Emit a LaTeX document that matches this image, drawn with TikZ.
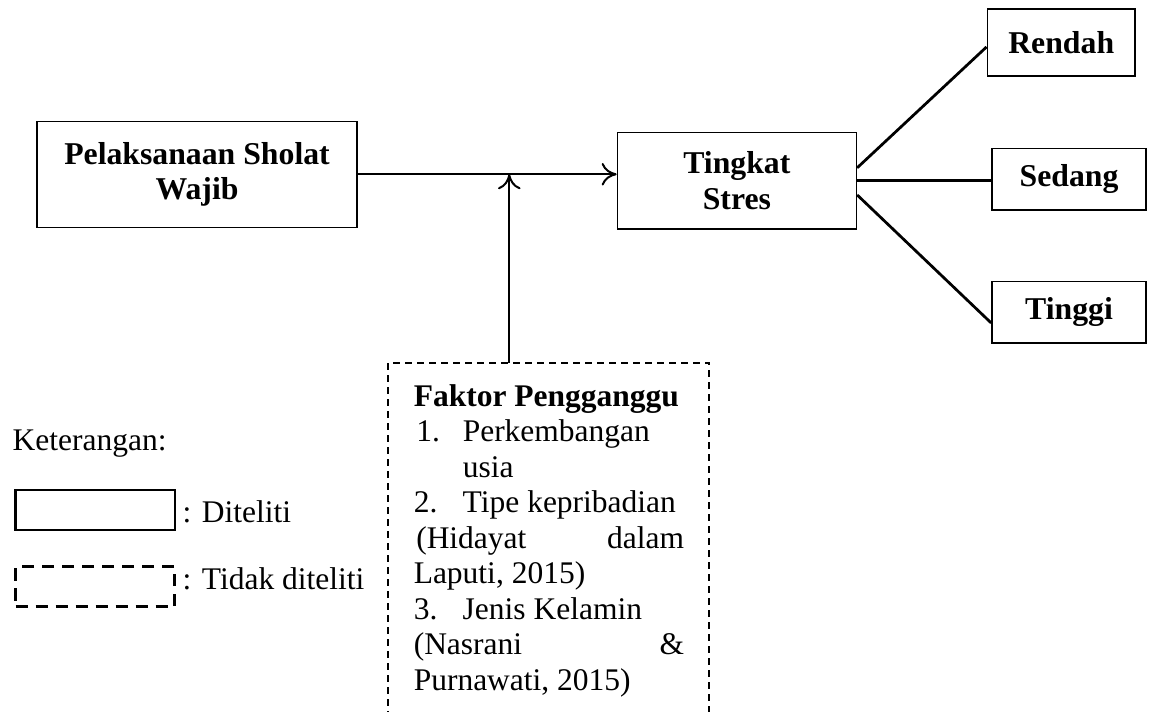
\documentclass[tikz,border=0pt]{standalone}
\usepackage{fontspec}
\setmainfont{Liberation Serif}
\usetikzlibrary{arrows.meta}

\begin{document}
\begin{tikzpicture}[>={To[length=6pt,width=9pt]},
  every node/.style={font=\fontsize{12.6}{14.2}\selectfont},
  kotak/.style={draw,semithick,align=center,font=\fontsize{12.7}{14.2}\selectfont\bfseries},
  teks/.style={anchor=base west,inner sep=0pt},
  garis/.style={line width=1.1pt}]
\useasboundingbox (0,0) rectangle (16.21,10.01);
%\draw[help lines] (0,0)grid(16,10);
\draw (2.77,7.56)coordinate(a)
      (10.36,7.47)coordinate(b)
      (14.92,9.41)coordinate(c)
      (15.03,7.49)coordinate(d)
      (15.03,5.62)coordinate(e)
      (5.46,4.91)coordinate(f)
      (0.17,3.68)coordinate(g)
      (1.34,2.84)coordinate(h)
      (1.34,1.76)coordinate(i)
      (2.56,2.67)coordinate(j)
      (2.56,1.72)coordinate(k)
      (7.16,4.91)coordinate(l);
\node[kotak,minimum width=4.5cm,minimum height=1.49cm](sholat) at (a){Pelaksanaan Sholat\\Wajib};
\node[kotak,minimum width=3.36cm,minimum height=1.36cm](stres) at (b){Tingkat\\Stres};
\node[kotak,minimum width=2.08cm,minimum height=0.94cm](rendah) at (c){Rendah};
\node[kotak,minimum width=2.17cm,minimum height=0.87cm](sedang) at (d){Sedang};
\node[kotak,minimum width=2.17cm,minimum height=0.87cm](tinggi) at (e){Tinggi};
\node[anchor=north west,inner xsep=0.35cm,inner ysep=8.5pt,text width=3.8cm,align=flush left](faktor) at (f){\mbox{\textbf{Faktor Pengganggu}}\\
\hspace*{1pt}\makebox[18.6pt][l]{1.}Perkembangan\\
\hspace*{19.6pt}usia\\
\makebox[19.6pt][l]{2.}Tipe kepribadian\\
\hspace*{1pt}(Hidayat\hfill dalam\\
Laputi, 2015)\\
\makebox[19.6pt][l]{3.}Jenis Kelamin\\
(Nasrani\hfill\&\\
Purnawati, 2015)};
\draw[dash pattern=on 2.8pt off 2pt,line width=0.8pt]([yshift=-1cm]faktor.south west)|-(faktor.north east)--([yshift=-1cm]faktor.south east);
\draw[->,thick](sholat.east)--(sholat.east -| stres.west);
\draw[->,thick](l |- faktor.north)--(l |- sholat.east);
\draw[garis]([yshift=0.18cm]stres.east)--([yshift=-0.06cm]rendah.west);
\draw[garis](stres.east)--(stres.east -| sedang.west);
\draw[garis]([yshift=-0.2cm]stres.east)--([yshift=-0.15cm]tinggi.west);
% keterangan
\draw (g)node[teks](ket){Keterangan:};
\node[draw,line width=1.1pt,minimum width=2.24cm,minimum height=0.56cm](diteliti) at (h){};
\node[draw,line width=1.2pt,dash pattern=on 5pt off 3pt,minimum width=2.24cm,minimum height=0.56cm](tidak) at (i){};
\draw (j)node[teks]{: Diteliti};
\draw (k)node[teks]{: Tidak diteliti};
\end{tikzpicture}
\end{document}
